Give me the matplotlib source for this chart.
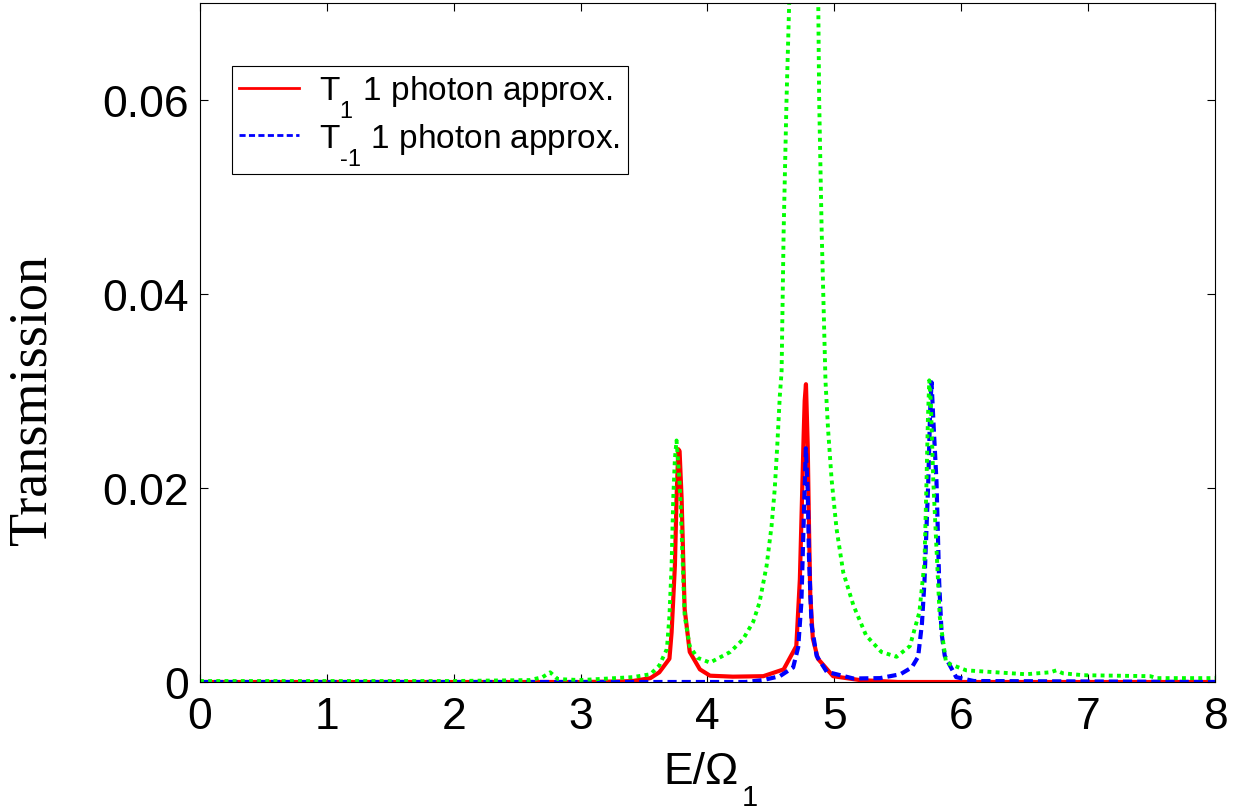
import matplotlib
matplotlib.use("Agg")
import matplotlib.pyplot as plt
import matplotlib._mathtext as _mt

plt.rcParams['font.family'] = ['Liberation Sans', 'DejaVu Sans']
plt.rcParams['mathtext.fontset'] = 'custom'
plt.rcParams['mathtext.rm'] = 'Liberation Sans'
plt.rcParams['mathtext.it'] = 'Liberation Sans'
plt.rcParams['mathtext.default'] = 'regular'
# MATLAB-like deeper subscripts
_mt.FontConstantsBase.sub1 = 1.0
_mt.FontConstantsBase.subdrop = 0.8

# T_1, 1 photon approx. (red)
e_red = [0, 3.0, 3.3, 3.41, 3.55, 3.62, 3.70, 3.717, 3.743, 3.756, 3.77, 3.78, 3.796, 3.81,
         3.82, 3.86, 3.94, 4.02, 4.2, 4.44, 4.6, 4.70, 4.728, 4.745, 4.758, 4.766, 4.776,
         4.79, 4.80, 4.81, 4.83, 4.87, 4.99, 5.2, 5.5, 8.0]
t_red = [0, 0, 0.00005, 0.0001, 0.0004, 0.001, 0.0024, 0.0051, 0.012, 0.0189, 0.024, 0.0238,
         0.0189, 0.012, 0.0075, 0.0031, 0.0013, 0.00065, 0.00055, 0.0006, 0.0013, 0.0037,
         0.0106, 0.0190, 0.0255, 0.0290, 0.0307, 0.0243, 0.0160, 0.0090, 0.0045, 0.0024,
         0.0006, 0.0002, 0, 0]

# T_-1, 1 photon approx. (blue)
e_blue = [0, 4.3, 4.44, 4.57, 4.675, 4.715, 4.74, 4.76, 4.775, 4.79, 4.80, 4.82, 4.86, 4.94,
          5.15, 5.36, 5.52, 5.61, 5.66, 5.69, 5.71, 5.74, 5.755, 5.766, 5.78, 5.805, 5.826,
          5.845, 5.87, 5.96, 6.1, 8.0]
t_blue = [0, 0, 0.0002, 0.0006, 0.0015, 0.0036, 0.0082, 0.0174, 0.0241, 0.0197, 0.0128, 0.0059,
          0.0027, 0.00105, 0.00036, 0.0004, 0.0008, 0.0015, 0.0026, 0.006, 0.0103, 0.0206,
          0.0280, 0.0309, 0.0270, 0.0206, 0.0103, 0.005, 0.0027, 0.0005, 0.0001, 0]

# full calculation (green dotted)
e_green = [0, 2.0, 2.6, 2.70, 2.76, 2.82, 3.0, 3.41, 3.55, 3.62, 3.68, 3.70, 3.717, 3.73, 3.743,
           3.756, 3.78, 3.796, 3.81, 3.82, 3.86, 3.92, 4.02, 4.18, 4.28, 4.36, 4.41, 4.466,
           4.505, 4.53, 4.55, 4.57, 4.584, 4.60, 4.623, 4.644, 4.66, 4.70, 4.755, 4.80, 4.85,
           4.873, 4.88, 4.90, 4.93, 4.95, 4.978, 5.017, 5.07, 5.15, 5.25, 5.37, 5.49, 5.595,
           5.67, 5.71, 5.725, 5.737, 5.748, 5.76, 5.78, 5.805, 5.83, 5.88, 6.04, 6.51, 6.70,
           6.75, 6.80, 6.96, 7.49, 7.54, 8.0]
t_green = [0.0001, 0.0001, 0.0002, 0.0005, 0.001, 0.0003, 0.0002, 0.0005, 0.0008, 0.0017, 0.0034,
           0.0068, 0.012, 0.0189, 0.023, 0.0249, 0.0206, 0.0155, 0.0103, 0.0068, 0.0037, 0.0025,
           0.0020, 0.0031, 0.0044, 0.0062, 0.0082, 0.012, 0.0161, 0.0199, 0.0244, 0.0295,
           0.0320, 0.0464, 0.0601, 0.070, 0.09, 0.15, 0.2, 0.15, 0.09, 0.070, 0.0601, 0.0464,
           0.031, 0.0261, 0.0209, 0.0158, 0.0113, 0.0079, 0.0048, 0.0031, 0.0026, 0.0037, 0.0072,
           0.0123, 0.020, 0.027, 0.0311, 0.029, 0.0206, 0.0137, 0.0068, 0.002, 0.0012, 0.0008,
           0.001, 0.0012, 0.0009, 0.0007, 0.0006, 0.0004, 0.0004]

x_ticks = [0, 1, 2, 3, 4, 5, 6, 7, 8]
y_ticks = [0, 0.02, 0.04, 0.06]
y_tick_labels = ['0', '0.02', '0.04', '0.06']

fig = plt.figure(figsize=(12.42, 8.12), dpi=100)
ax = fig.add_axes([200/1242, 1 - 683/812, 1015/1242, 679/812])

ax.plot(e_red, t_red, color=(1, 0, 0), lw=3.0, ls='-', label=r'T$_1$ 1 photon approx.')
ax.plot(e_blue, t_blue, color=(0, 0, 1), lw=3.0, ls=(0, (2.2, 1.2)),
        label='T$_{\u20101}$ 1 photon approx.')
ax.plot(e_green, t_green, color=(0, 1, 0), lw=2.8, ls=(0, (1.0, 1.1)))

ax.set_xlim(0, 8)
ax.set_ylim(0, 0.07)
ax.set_xticks(x_ticks)
ax.set_xticklabels([str(v) for v in x_ticks])
ax.set_yticks(y_ticks)
ax.set_yticklabels(y_tick_labels)
ax.tick_params(direction='in', length=6, width=0.8, labelsize=32, top=True, right=True)
ax.tick_params(axis='x', pad=10)
ax.tick_params(axis='y', pad=8)
for s in ax.spines.values():
    s.set_linewidth(0.8)
    s.set_color('black')

# x label: "E/Omega" with a MATLAB-style low subscript "1"
fig.text(663/1242, 1 - 784/812, 'E/\u03a9', ha='left', va='baseline', fontsize=32)
fig.text(742/1242, 1 - 806/812, '1', ha='left', va='baseline', fontsize=21)
fig.text(32/1242, 1 - 400/812, 'Transmission', rotation=90, ha='center', va='center',
         fontsize=39, family=['Liberation Serif', 'DejaVu Serif'])

leg_lines = ax.get_lines()[:2]
leg = ax.legend(handles=leg_lines, loc='upper left', bbox_to_anchor=(32/1015, (683-67)/679),
                borderaxespad=0, fontsize=24, frameon=True, fancybox=False, framealpha=1,
                edgecolor='black', handlelength=1.8, handletextpad=0.6, borderpad=0.22,
                labelspacing=0.05)
leg.get_frame().set_linewidth(0.8)
for h in leg.get_lines():
    h.set_linewidth(2)

fig.savefig('out.png', dpi=100)
